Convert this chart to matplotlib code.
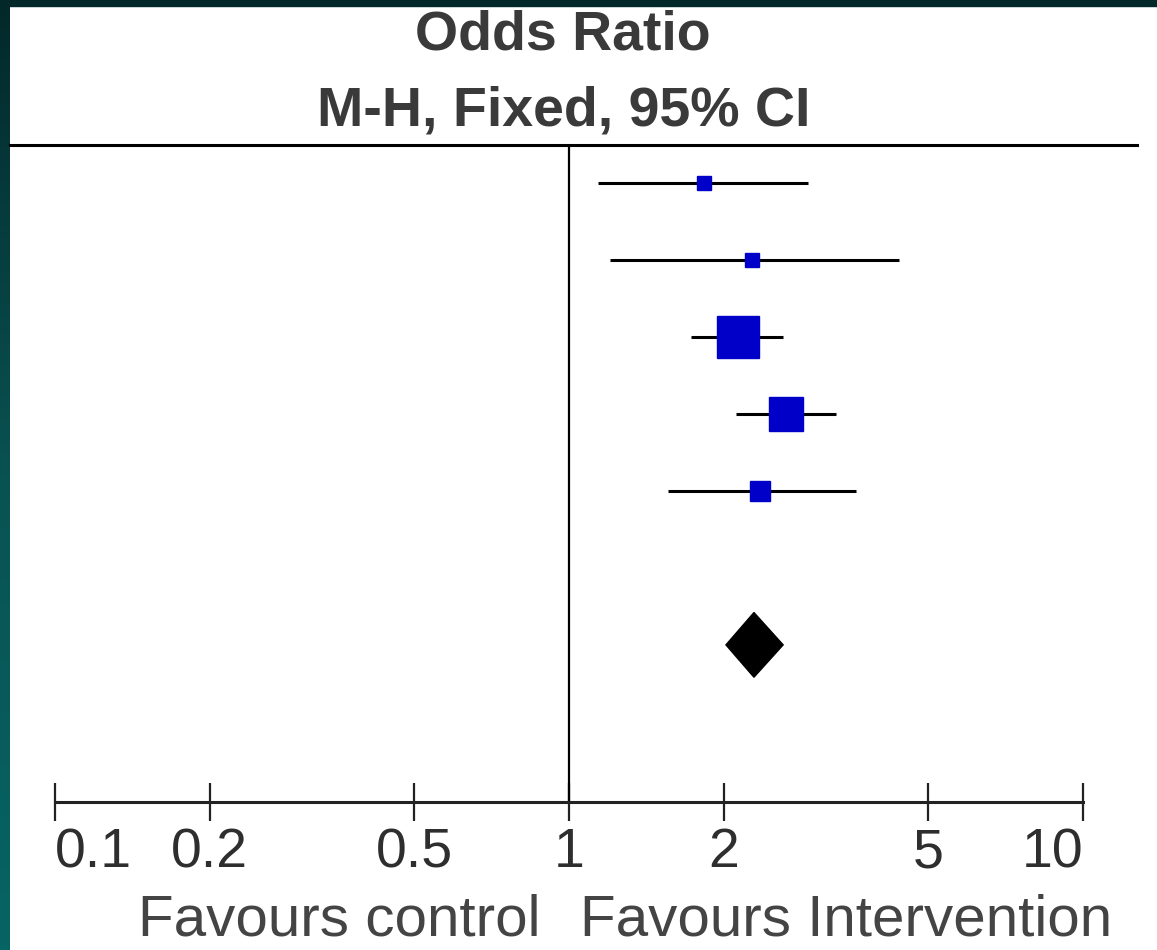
#!/usr/bin/env python3
"""Forest plot: odds ratios (M-H, fixed, 95% CI)."""
import numpy as np
import matplotlib
matplotlib.use("Agg")
import matplotlib.pyplot as plt
from matplotlib.colors import LinearSegmentedColormap
from matplotlib.patches import Polygon, Rectangle
from matplotlib.ticker import NullLocator

# study rows, top to bottom
odds_ratio = [1.83, 2.27, 2.13, 2.64, 2.35]
ci_low = [1.14, 1.20, 1.73, 2.11, 1.56]
ci_high = [2.92, 4.39, 2.61, 3.31, 3.62]
weights = [4.6, 4.6, 45.1, 28.5, 10.8]

# pooled estimate
total_or = 2.29
total_low = 2.02
total_high = 2.61

ticks = [0.1, 0.2, 0.5, 1, 2, 5, 10]
tick_labels = ["0.1", "0.2", "0.5", "1", "2", "5", "10"]

plt.rcParams["font.family"] = ["Liberation Sans", "DejaVu Sans"]

W, H = 1157, 950


def main():
    fig = plt.figure(figsize=(W / 100, H / 100), dpi=100)
    fig.patch.set_facecolor("white")

    # slide border: gradient strip on the left, dark strip on top
    cmap = LinearSegmentedColormap.from_list(
        "edge", ["#03282a", "#0a5252", "#076464"])
    bax = fig.add_axes([0, 0, 10 / W, 1])
    bax.imshow(np.linspace(0, 1, 256).reshape(-1, 1), aspect="auto", cmap=cmap)
    bax.axis("off")
    fig.add_artist(Rectangle((0, 1 - 6 / H), 1, 6 / H,
                             transform=fig.transFigure, color="#03282a"))

    ax = fig.add_axes([55 / W, 1 - 802 / H, (1083 - 55) / W, (802 - 145) / H])
    ax.set_xscale("log")
    ax.set_xlim(0.1, 10)
    ax.set_ylim(8.04, -0.49)

    rows = np.arange(len(odds_ratio))
    for r, o, lo, hi, w in zip(rows, odds_ratio, ci_low, ci_high, weights):
        ax.plot([lo, hi], [r, r], color="black", lw=2.2, solid_capstyle="butt")
        side = 6.26 * np.sqrt(w) * 0.72
        ax.plot(o, r, marker="s", ms=side, color="#0000c8", mec="#0000c8")

    total_row = len(odds_ratio) + 1
    ax.add_patch(Polygon([(total_low, total_row), (total_or, total_row - 0.42),
                          (total_high, total_row), (total_or, total_row + 0.42)],
                         closed=True, facecolor="black", edgecolor="black"))

    ax.axvline(1, color="black", lw=1.6)
    ax.plot([-0.0438, 1.0525], [1, 1], transform=ax.transAxes, clip_on=False,
            color="black", lw=2.2)

    for s in ["left", "right", "top"]:
        ax.spines[s].set_visible(False)
    ax.spines["bottom"].set_linewidth(2.2)
    ax.spines["bottom"].set_color("#222222")

    ax.set_xticks(ticks)
    ax.set_xticklabels(tick_labels)
    ax.xaxis.set_minor_locator(NullLocator())
    ax.tick_params(axis="x", direction="inout", length=28, width=1.6,
                   color="#222222", pad=4, labelsize=40, labelcolor="#2e2e2e")
    # outer labels stay inside the axis ends
    labels = ax.get_xticklabels()
    labels[0].set_ha("left")
    labels[-1].set_ha("right")
    ax.set_yticks([])
    ax.patch.set_alpha(0)

    fig.text(563 / W, 1 - 50 / H, "Odds Ratio", ha="center", va="baseline",
             fontsize=40, fontweight="bold", color="#3a3a3a")
    fig.text(564 / W, 1 - 125 / H, "M-H, Fixed, 95% CI", ha="center",
             va="baseline", fontsize=40, fontweight="bold", color="#3a3a3a")

    fig.text(540 / W, 1 - 935 / H, "Favours control", ha="right",
             va="baseline", fontsize=42, color="#444444")
    fig.text(580 / W, 1 - 935 / H, "Favours Intervention", ha="left",
             va="baseline", fontsize=42, color="#444444")

    fig.savefig("out.png", dpi=100)
    plt.close(fig)


if __name__ == "__main__":
    main()
